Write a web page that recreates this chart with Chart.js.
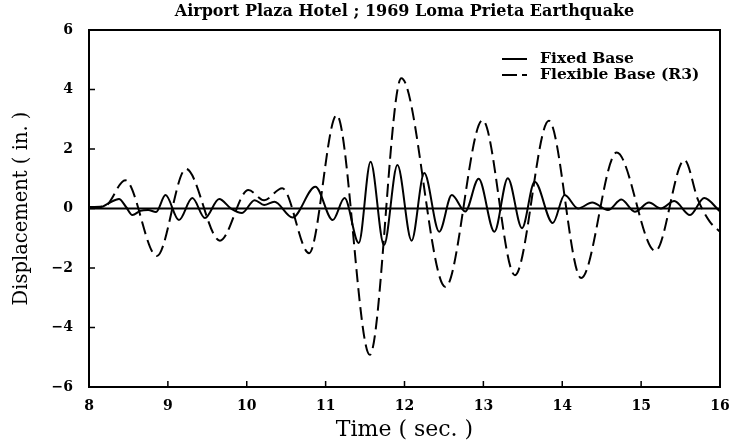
<!DOCTYPE html>
<html>
<head>
<meta charset="utf-8">
<script src="https://cdn.jsdelivr.net/npm/chart.js@4/dist/chart.umd.min.js"></script>
<style>
  html, body { margin: 0; padding: 0; background: #fff; }
  #wrap { width: 748px; height: 446px; }
</style>
</head>
<body>
<div id="wrap"><canvas id="c" width="748" height="446"></canvas></div>
<script>
// Text
const chartTitle = 'Airport Plaza Hotel ; 1969 Loma Prieta Earthquake';
const xTitle = 'Time ( sec. )';
const yTitle = 'Displacement ( in. )';
const seriesNames = ['Fixed Base', 'Flexible Base (R3)'];

// Axis ticks
const xTicks = [8, 9, 10, 11, 12, 13, 14, 15, 16];
const yTicks = [-6, -4, -2, 0, 2, 4, 6];

// Fixed base response: turning points (sec, in.)
const fixedTime = [8.00, 8.15, 8.25, 8.38, 8.47, 8.55, 8.65, 8.75, 8.85, 8.97, 9.14, 9.31, 9.47, 9.65, 9.80, 9.94,
  10.10, 10.22, 10.35, 10.58, 10.87, 11.09, 11.24, 11.42, 11.57, 11.74, 11.91, 12.09, 12.25, 12.44, 12.60, 12.77,
  12.94, 13.14, 13.31, 13.49, 13.65, 13.88, 14.03, 14.20, 14.38, 14.58, 14.75, 14.92, 15.10, 15.25, 15.42, 15.62,
  15.80, 16.00];
const fixedDisp = [0.05, 0.05, 0.18, 0.32, 0.05, -0.22, -0.08, -0.05, -0.12, 0.45, -0.39, 0.35, -0.32, 0.32, 0.00, -0.15,
  0.28, 0.12, 0.23, -0.30, 0.73, -0.39, 0.35, -1.16, 1.57, -1.23, 1.46, -1.08, 1.19, -0.78, 0.45, -0.10,
  1.00, -0.78, 1.02, -0.66, 0.90, -0.49, 0.45, 0.00, 0.20, -0.05, 0.30, -0.11, 0.20, 0.00, 0.25, -0.22,
  0.35, -0.10];

// Flexible base (R3) response: turning points (sec, in.)
const flexTime = [8.00, 8.20, 8.46, 8.86, 9.23, 9.66, 10.02, 10.22, 10.45, 10.79, 11.14, 11.56, 11.96, 12.52,
  12.99, 13.40, 13.83, 14.24, 14.69, 15.18, 15.55, 15.72, 15.87, 16.00];
const flexDisp = [0.05, 0.08, 0.95, -1.60, 1.33, -1.08, 0.62, 0.28, 0.68, -1.50, 3.14, -4.92, 4.38, -2.64,
  2.97, -2.24, 2.95, -2.34, 1.88, -1.43, 1.63, 0.30, -0.44, -0.78];

const toPoints = (ts, vs) => ts.map((t, i) => ({ x: t, y: vs[i] }));

const SERIF = '"DejaVu Serif", "Liberation Serif", serif';
const FLEX_DASH = [13, 6];

// Frame, inward tick marks, title and in-plot key
const decorations = {
  id: 'decorations',
  afterDatasetsDraw(chart) {
    const { ctx, chartArea: a, scales: { x, y } } = chart;
    ctx.save();
    ctx.strokeStyle = '#000';
    ctx.lineWidth = 2;
    ctx.strokeRect(a.left, a.top, a.right - a.left, a.bottom - a.top);

    ctx.lineWidth = 1.5;
    ctx.beginPath();
    xTicks.forEach(v => {
      const px = x.getPixelForValue(v);
      ctx.moveTo(px, a.bottom);
      ctx.lineTo(px, a.bottom - 6);
    });
    yTicks.forEach(v => {
      const py = y.getPixelForValue(v);
      ctx.moveTo(a.left, py);
      ctx.lineTo(a.left + 6, py);
    });
    ctx.stroke();

    ctx.fillStyle = '#000';
    ctx.font = 'bold 16px ' + SERIF;
    ctx.textAlign = 'center';
    ctx.textBaseline = 'middle';
    ctx.fillText(chartTitle, (a.left + a.right) / 2, 12);

    // key
    const kx = 502, ky = 59, gap = 16;
    ctx.lineWidth = 2;
    ctx.beginPath();
    ctx.moveTo(kx, ky);
    ctx.lineTo(kx + 25, ky);
    ctx.stroke();
    ctx.beginPath();
    ctx.setLineDash([15, 5, 5, 100]);
    ctx.moveTo(kx, ky + gap);
    ctx.lineTo(kx + 25, ky + gap);
    ctx.stroke();
    ctx.setLineDash([]);
    ctx.font = 'bold 15.5px ' + SERIF;
    ctx.textAlign = 'left';
    ctx.fillText(seriesNames[0], 540, ky);
    ctx.fillText(seriesNames[1], 540, ky + gap);
    ctx.restore();
  }
};

const fmt = v => (v < 0 ? '\u2212' + Math.abs(v) : String(v));

new Chart(document.getElementById('c'), {
  type: 'line',
  data: {
    datasets: [
      {
        label: 'zero',
        data: [{ x: 8, y: 0 }, { x: 16, y: 0 }],
        borderColor: '#000',
        borderWidth: 2,
        pointRadius: 0
      },
      {
        label: seriesNames[0],
        data: toPoints(fixedTime, fixedDisp),
        borderColor: '#000',
        borderWidth: 2,
        pointRadius: 0,
        cubicInterpolationMode: 'monotone'
      },
      {
        label: seriesNames[1],
        data: toPoints(flexTime, flexDisp),
        borderColor: '#000',
        borderWidth: 2,
        borderDash: FLEX_DASH,
        pointRadius: 0,
        cubicInterpolationMode: 'monotone'
      }
    ]
  },
  options: {
    responsive: false,
    animation: false,
    devicePixelRatio: 1,
    layout: { padding: { top: 30, right: 28, left: 0, bottom: 0 } },
    plugins: {
      legend: { display: false },
      title: { display: false },
      tooltip: { enabled: false }
    },
    scales: {
      x: {
        type: 'linear',
        min: 8,
        max: 16,
        afterBuildTicks: s => { s.ticks = xTicks.map(v => ({ value: v })); },
        afterFit: s => { s.height = 59; },
        grid: { display: false, drawTicks: false },
        border: { display: false },
        ticks: {
          color: '#000',
          font: { family: SERIF, size: 14, weight: 'bold' },
          padding: 11,
          maxRotation: 0,
          callback: v => fmt(v)
        },
        title: {
          display: true,
          text: xTitle,
          color: '#000',
          font: { family: SERIF, size: 22 },
          padding: { top: 0, bottom: 3 }
        }
      },
      y: {
        min: -6,
        max: 6,
        afterBuildTicks: s => { s.ticks = yTicks.map(v => ({ value: v })); },
        afterFit: s => { s.width = 89; },
        grid: { display: false, drawTicks: false },
        border: { display: false },
        ticks: {
          color: '#000',
          font: { family: SERIF, size: 14, weight: 'bold' },
          padding: 16,
          callback: v => fmt(v)
        },
        title: {
          display: true,
          text: yTitle,
          color: '#000',
          font: { family: SERIF, size: 19.5 },
          padding: { top: 10, bottom: 10 }
        }
      }
    }
  },
  plugins: [decorations]
});
</script>
</body>
</html>
